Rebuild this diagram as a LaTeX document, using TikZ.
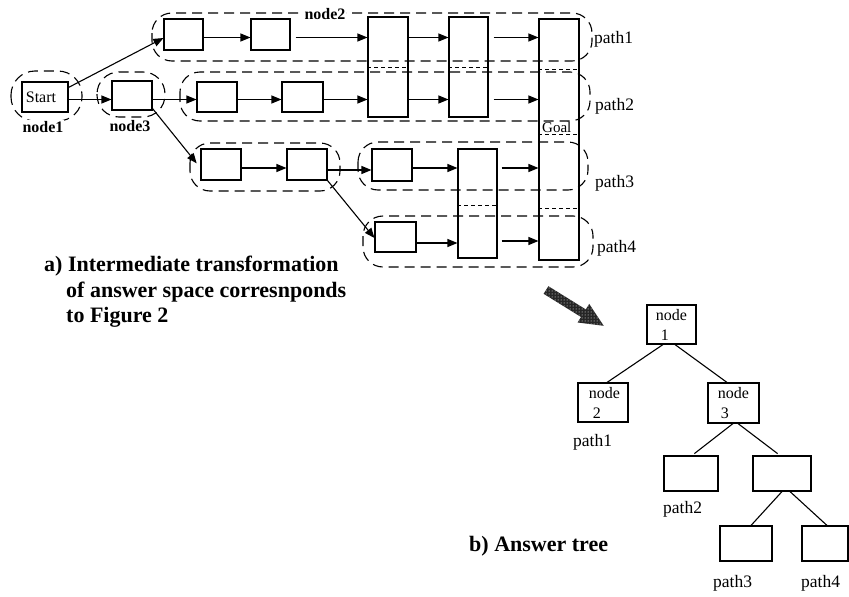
\documentclass[tikz,border=0pt]{standalone}
\usepackage{fontspec}
\setmainfont{Liberation Serif}
\usetikzlibrary{arrows.meta,patterns}
\tikzset{
  box/.style={draw,line width=1.1pt,inner sep=0pt,font=\fontsize{16}{19}\selectfont},
  tbox/.style={draw,line width=1.1pt,inner sep=0pt,align=left,font=\fontsize{16}{20}\selectfont},
  region/.style={line width=1.1pt,dash pattern=on 10pt off 6pt,rounded corners=20pt},
  sepline/.style={line width=0.9pt,dash pattern=on 4pt off 3pt},
  arr/.style={line width=1.1pt,-{Triangle[length=10pt,width=8pt]}},
  plain/.style={line width=1.1pt},
  plab/.style={anchor=base west,inner sep=0pt,font=\fontsize{17.5}{20}\selectfont},
  blab/.style={fill=white,inner sep=1pt,font=\bfseries\fontsize{16}{19}\selectfont},
  captext/.style={anchor=base west,inner sep=0pt,font=\bfseries\fontsize{22}{26}\selectfont}
}
\begin{document}
\begin{tikzpicture}[x=1pt,y=-1pt]
\useasboundingbox (0,0) rectangle (849,597);

% dashed regions
\draw[region,rounded corners=24pt] (11,71) rectangle (82,121);
\draw[region,rounded corners=22pt] (97,72) rectangle (165,117);
\draw[region] (152,13) rectangle (592,61);
\draw[region] (180,72) rectangle (590,121);
\draw[region] (190,143) rectangle (340,191);
\draw[region] (358,142) rectangle (588,190);
\draw[region] (363,216) rectangle (593,267);

% boxes
\node[box,minimum width=46pt,minimum height=30pt] (start) at (45,97) {Start\hspace*{8pt}};
\node[box,minimum width=40pt,minimum height=29pt] (n3) at (132,95.5) {};
\node[box,minimum width=39pt,minimum height=31pt] (p1a) at (183.5,34.5) {};
\node[box,minimum width=39pt,minimum height=31pt] (p1b) at (270.5,34.5) {};
\node[box,minimum width=40pt,minimum height=100pt] (A) at (388,67) {};
\node[box,minimum width=39pt,minimum height=100pt] (B) at (468.5,67) {};
\node[box,minimum width=40pt,minimum height=241pt] (goal) at (559,139.5) {};
\node[box,minimum width=40pt,minimum height=30pt] (p2a) at (217,97) {};
\node[box,minimum width=41pt,minimum height=30pt] (p2b) at (302.5,97) {};
\node[box,minimum width=40pt,minimum height=31pt] (p3a) at (221,164.5) {};
\node[box,minimum width=40pt,minimum height=31pt] (p3b) at (307,164.5) {};
\node[box,minimum width=40pt,minimum height=32pt] (p3c) at (392,165) {};
\node[box,minimum width=39pt,minimum height=109pt] (C) at (477.5,203.5) {};
\node[box,minimum width=41pt,minimum height=30pt] (p4) at (395.5,237) {};

\node[anchor=base west,inner sep=0pt,font=\fontsize{15}{18}\selectfont] (goaltext) at (542,132) {Goal};

% short dashed separators
\draw[sepline] ([yshift=-51pt]A.north west) -- ([yshift=-51pt]A.north east);
\draw[sepline] ([yshift=-51pt]B.north west) -- ([yshift=-51pt]B.north east);
\draw[sepline] ([yshift=-51pt]goal.north west) -- ([yshift=-51pt]goal.north east);
\draw[sepline] ([yshift=-116pt]goal.north west) -- ([yshift=-116pt]goal.north east);
\draw[sepline] ([yshift=-190pt]goal.north west) -- ([yshift=-190pt]goal.north east);
\draw[sepline] ([yshift=-57pt]C.north west) -- ([yshift=-57pt]C.north east);

% row levels
\coordinate (r1) at (0,37.5);
\coordinate (r2) at (0,99.5);
\coordinate (r3) at (0,168);
\coordinate (r4) at (0,241);

% arrows
\draw[arr] ([yshift=-6pt]start.north east) -- ([yshift=-3.5pt]p1a.west);
\draw[arr] (start.east |- r2) -- (n3.west |- r2);
\draw[arr] (p1a.east |- r1) -- (p1b.west |- r1);
\draw[arr,shorten <=5pt] (p1b.east |- r1) -- (A.west |- r1);
\draw[arr] (A.east |- r1) -- (B.west |- r1);
\draw[arr,shorten <=5pt] (B.east |- r1) -- (goal.west |- r1);
\draw[arr] (n3.east |- r2) -- (p2a.west |- r2);
\draw[arr] (p2a.east |- r2) -- (p2b.west |- r2);
\draw[arr] (p2b.east |- r2) -- (A.west |- r2);
\draw[arr] (A.east |- r2) -- (B.west |- r2);
\draw[arr,shorten <=5pt] (B.east |- r2) -- (goal.west |- r2);
\draw[arr,shorten >=6pt] ([yshift=2pt]n3.south east) -- ([yshift=-3.5pt]p3a.west);
\draw[arr] (p3a.east |- r3) -- (p3b.west |- r3);
\draw[arr] ([yshift=-2pt]p3b.east |- r3) -- ([yshift=-2pt]p3c.west |- r3);
\draw[arr] (p3c.east |- r3) -- (C.west |- r3);
\draw[arr,shorten <=4pt] (C.east |- r3) -- (goal.west |- r3);
\draw[arr] (p3b.south east) -- ([yshift=-1pt]p4.west);
\draw[arr] ([yshift=-2pt]p4.east |- r4) -- ([yshift=-2pt]C.west |- r4);
\draw[arr,shorten <=4pt] (C.east |- r4) -- (goal.west |- r4);

% bold labels
\node[blab] (lnode1) at (43,127) {node1};
\node[blab] (lnode3) at (130,126) {node3};
\node[blab] (lnode2) at (325,14) {node2};

% path labels
\node[plab] (lp1) at (594,43) {path1};
\node[plab] (lp2) at (595,110) {path2};
\node[plab] (lp3) at (595,187) {path3};
\node[plab] (lp4) at (597,252) {path4};

% caption a
\node[captext] (capa1) at (44,271) {a) Intermediate transformation};
\node[captext] (capa2) at (66,297) {of answer space corresnponds};
\node[captext] (capa3) at (66,322) {to Figure 2};

% hatched arrow
\path[fill=black!85,postaction={pattern=dots,pattern color=white}]
  (543.6,293.8) -- (548.4,286.2) -- (585.8,309.4) -- (589.2,303.9)
  -- (603.7,325.8) -- (577.6,322.5) -- (581.0,317.0) -- cycle;

% tree
\node[tbox,minimum width=49pt,minimum height=39pt] (t1) at (671.5,324.5) {node\\\hspace*{5pt}1};
\node[tbox,minimum width=50pt,minimum height=39pt] (t2) at (603,402.5) {\hspace*{3pt}node\\\hspace*{7pt}2};
\node[tbox,minimum width=51pt,minimum height=40pt] (t3) at (733.5,403) {node\\\hspace*{3pt}3};
\node[tbox,minimum width=54pt,minimum height=35pt] (tp2) at (691,473.5) {};
\node[tbox,minimum width=58pt,minimum height=35pt] (tr) at (782,473.5) {};
\node[tbox,minimum width=52pt,minimum height=35pt] (tp3) at (746,543.5) {};
\node[tbox,minimum width=46pt,minimum height=35pt] (tp4) at (825,543.5) {};

\draw[plain] ([xshift=-8.5pt]t1.south) -- ([xshift=4pt]t2.north);
\draw[plain] ([xshift=3.5pt]t1.south) -- ([xshift=-6.5pt]t3.north);
\draw[plain,shorten >=3pt] ([xshift=-0.5pt]t3.south) -- ([xshift=1pt]tp2.north);
\draw[plain,shorten >=3pt] ([xshift=4.5pt]t3.south) -- ([xshift=-2pt]tr.north);
\draw[plain] (tr.south) -- ([xshift=5pt]tp3.north);
\draw[plain] ([xshift=8pt]tr.south) -- ([xshift=2pt]tp4.north);

\node[plab] (tl1) at (573,446) {path1};
\node[plab] (tl2) at (663,513) {path2};
\node[plab] (tl3) at (713,587) {path3};
\node[plab] (tl4) at (801,587) {path4};

\node[captext] (capb) at (469,551) {b) Answer tree};
\end{tikzpicture}
\end{document}
